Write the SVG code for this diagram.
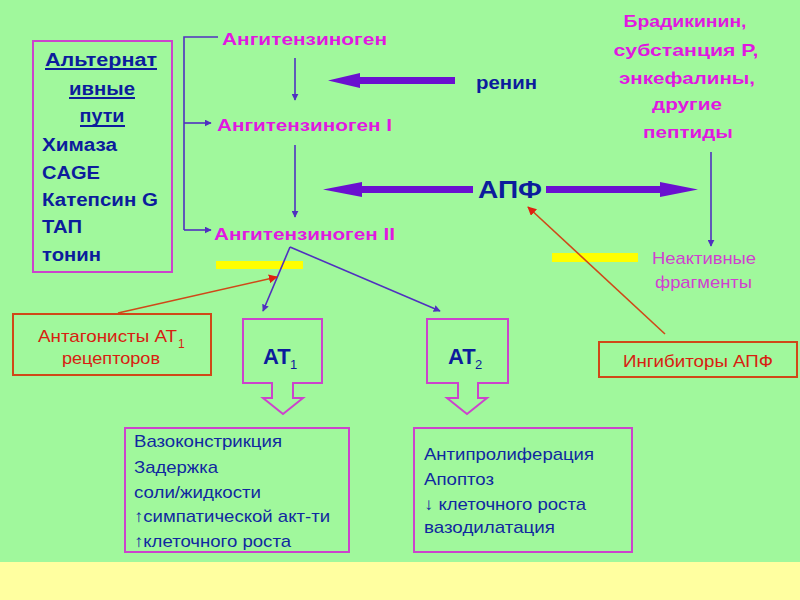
<svg xmlns="http://www.w3.org/2000/svg" width="800" height="600" viewBox="0 0 800 600">
<defs>
<style>
text{font-family:"Liberation Sans",Arial,sans-serif}
.b{font-weight:bold}
.mag{fill:#e018e0;font-size:17px;font-weight:bold}
.blue{fill:#0c1c9c;font-size:18px;font-weight:bold}
.t{fill:#1028a0;font-size:17px}
.red{fill:#d82010;font-size:17px}
.box{fill:none;stroke:#cc44cc;stroke-width:2}
.rbox{fill:none;stroke:#d04818;stroke-width:2}
.c{fill:none;stroke:#5030c0;stroke-width:1.6}
.rl{fill:none;stroke:#d04818;stroke-width:1.6}
.thick{fill:#6a10d0}
.yb{fill:#ffff00}
</style>
<marker id="ah" viewBox="0 0 10 10" refX="9" refY="5" markerWidth="7" markerHeight="7" markerUnits="userSpaceOnUse" orient="auto"><path d="M0,0 L10,5 L0,10 z" fill="#5030c0"/></marker>
<marker id="ahr" viewBox="0 0 10 10" refX="9" refY="5" markerWidth="9" markerHeight="9" markerUnits="userSpaceOnUse" orient="auto"><path d="M0,0 L10,5 L0,10 z" fill="#e02010"/></marker>
</defs>
<rect x="0" y="0" width="800" height="600" fill="#a0f89c"/>
<rect x="0" y="562" width="800" height="38" fill="#ffffa0"/>

<g id="alt-paths">
<rect class="box" x="33" y="41" width="139" height="231"/>
<text class="blue" x="101" y="66" text-anchor="middle" textLength="112" lengthAdjust="spacingAndGlyphs">Альтернат</text>
<line x1="45" y1="69" x2="157" y2="69" stroke="#0c1c9c" stroke-width="2"/>
<text class="blue" x="102" y="95" text-anchor="middle" textLength="66" lengthAdjust="spacingAndGlyphs">ивные</text>
<line x1="69" y1="98" x2="135" y2="98" stroke="#0c1c9c" stroke-width="2"/>
<text class="blue" x="102" y="122" text-anchor="middle" textLength="45" lengthAdjust="spacingAndGlyphs">пути</text>
<line x1="80" y1="126" x2="125" y2="126" stroke="#0c1c9c" stroke-width="2"/>
<text class="blue" x="42" y="151" textLength="75" lengthAdjust="spacingAndGlyphs">Химаза</text>
<text class="blue" x="42" y="179" textLength="58" lengthAdjust="spacingAndGlyphs">CAGE</text>
<text class="blue" x="42" y="206" textLength="116" lengthAdjust="spacingAndGlyphs">Катепсин G</text>
<text class="blue" x="42" y="233" textLength="40" lengthAdjust="spacingAndGlyphs">ТАП</text>
<text class="blue" x="42" y="261" textLength="59" lengthAdjust="spacingAndGlyphs">тонин</text>
</g>

<g id="angiotensinogen">
<text class="mag" x="222" y="45" textLength="165" lengthAdjust="spacingAndGlyphs">Ангитензиноген</text>
</g>
<g id="angiotensin-1">
<text class="mag" x="217" y="131" textLength="175" lengthAdjust="spacingAndGlyphs">Ангитензиноген I</text>
</g>
<g id="angiotensin-2">
<text class="mag" x="214" y="240" textLength="181" lengthAdjust="spacingAndGlyphs">Ангитензиноген II</text>
</g>

<g id="renin">
<text class="blue" x="476" y="89" textLength="61" lengthAdjust="spacingAndGlyphs">ренин</text>
</g>
<g id="apf">
<text class="blue" x="510" y="198" text-anchor="middle" style="font-size:23px" textLength="64" lengthAdjust="spacingAndGlyphs">АПФ</text>
</g>

<g id="peptides">
<text class="mag" x="685" y="27" text-anchor="middle" textLength="123" lengthAdjust="spacingAndGlyphs">Брадикинин,</text>
<text class="mag" x="686" y="56" text-anchor="middle" textLength="145" lengthAdjust="spacingAndGlyphs">субстанция Р,</text>
<text class="mag" x="687" y="84" text-anchor="middle" textLength="136" lengthAdjust="spacingAndGlyphs">энкефалины,</text>
<text class="mag" x="687" y="110" text-anchor="middle" textLength="70" lengthAdjust="spacingAndGlyphs">другие</text>
<text class="mag" x="688" y="138" text-anchor="middle" textLength="90" lengthAdjust="spacingAndGlyphs">пептиды</text>
</g>

<g id="inactive">
<text x="652" y="264" fill="#d040d0" style="font-size:17px" textLength="104" lengthAdjust="spacingAndGlyphs">Неактивные</text>
<text x="655" y="288" fill="#d040d0" style="font-size:17px" textLength="97" lengthAdjust="spacingAndGlyphs">фрагменты</text>
</g>

<g id="blockers">
<rect class="yb" x="216" y="261" width="87" height="8"/>
<rect class="yb" x="552" y="253" width="86" height="9"/>
</g>

<g id="at1-antagonists">
<rect class="rbox" x="13" y="314" width="198" height="61"/>
<text class="red" x="38" y="342" textLength="139" lengthAdjust="spacingAndGlyphs">Антагонисты АТ</text>
<text class="red" x="178" y="348" style="font-size:12px">1</text>
<text class="red" x="62" y="364" textLength="98" lengthAdjust="spacingAndGlyphs">рецепторов</text>
</g>

<g id="ace-inhibitors">
<rect class="rbox" x="599" y="342" width="198" height="35"/>
<text class="red" x="623" y="367" textLength="150" lengthAdjust="spacingAndGlyphs">Ингибиторы АПФ</text>
</g>

<g id="at1">
<path class="box" d="M243,319 H322 V383 H293 V398 H303 L283,414 L263,398 H272 V383 H243 Z"/>
<text x="263" y="364" fill="#0c1c9c" class="b" style="font-size:22px">AT</text>
<text x="290" y="369" fill="#0c1c9c" style="font-size:13px">1</text>
</g>

<g id="at2">
<path class="box" d="M427,319 H508 V383 H478 V398 H487 L467,414 L447,398 H458 V383 H427 Z"/>
<text x="448" y="364" fill="#0c1c9c" class="b" style="font-size:22px">AT</text>
<text x="475" y="369" fill="#0c1c9c" style="font-size:13px">2</text>
</g>

<g id="at1-effects">
<rect class="box" x="125" y="428" width="224" height="124"/>
<text class="t" x="134" y="447" textLength="148" lengthAdjust="spacingAndGlyphs">Вазоконстрикция</text>
<text class="t" x="134" y="473" textLength="84" lengthAdjust="spacingAndGlyphs">Задержка</text>
<text class="t" x="134" y="498" textLength="127" lengthAdjust="spacingAndGlyphs">соли/жидкости</text>
<text class="t" x="134" y="522" textLength="196" lengthAdjust="spacingAndGlyphs">↑симпатической акт-ти</text>
<text class="t" x="134" y="547" textLength="157" lengthAdjust="spacingAndGlyphs">↑клеточного роста</text>
</g>

<g id="at2-effects">
<rect class="box" x="414" y="428" width="218" height="124"/>
<text class="t" x="424" y="460" textLength="170" lengthAdjust="spacingAndGlyphs">Антипролиферация</text>
<text class="t" x="424" y="485" textLength="70" lengthAdjust="spacingAndGlyphs">Апоптоз</text>
<text class="t" x="424" y="510" textLength="162" lengthAdjust="spacingAndGlyphs">↓ клеточного роста</text>
<text class="t" x="424" y="533" textLength="131" lengthAdjust="spacingAndGlyphs">вазодилатация</text>
</g>

<g id="connectors">
<path class="c" d="M218,37 H184 V230"/>
<path class="c" d="M184,123 H211" marker-end="url(#ah)"/>
<path class="c" d="M184,230 H211" marker-end="url(#ah)"/>
<path class="c" d="M295,58 V100" marker-end="url(#ah)"/>
<path class="c" d="M295,145 V217" marker-end="url(#ah)"/>
<path class="c" d="M711,152 V246" marker-end="url(#ah)"/>
<path class="c" d="M290,247 L263,311" marker-end="url(#ah)"/>
<path class="c" d="M290,247 L440,311" marker-end="url(#ah)"/>
<path class="rl" d="M118,313 L277,277" marker-end="url(#ahr)"/>
<path class="rl" d="M665,334 L528,207" marker-end="url(#ahr)"/>
<path class="thick" d="M455,77 V84 H360 V88 L328,80.5 L360,73 V77 Z"/>
<path class="thick" d="M473,186 V193 H362 V197 L323,189.5 L362,182 V186 Z"/>
<path class="thick" d="M546,186 V193 H660 V197 L698,189.5 L660,182 V186 Z"/>
</g>
</svg>
